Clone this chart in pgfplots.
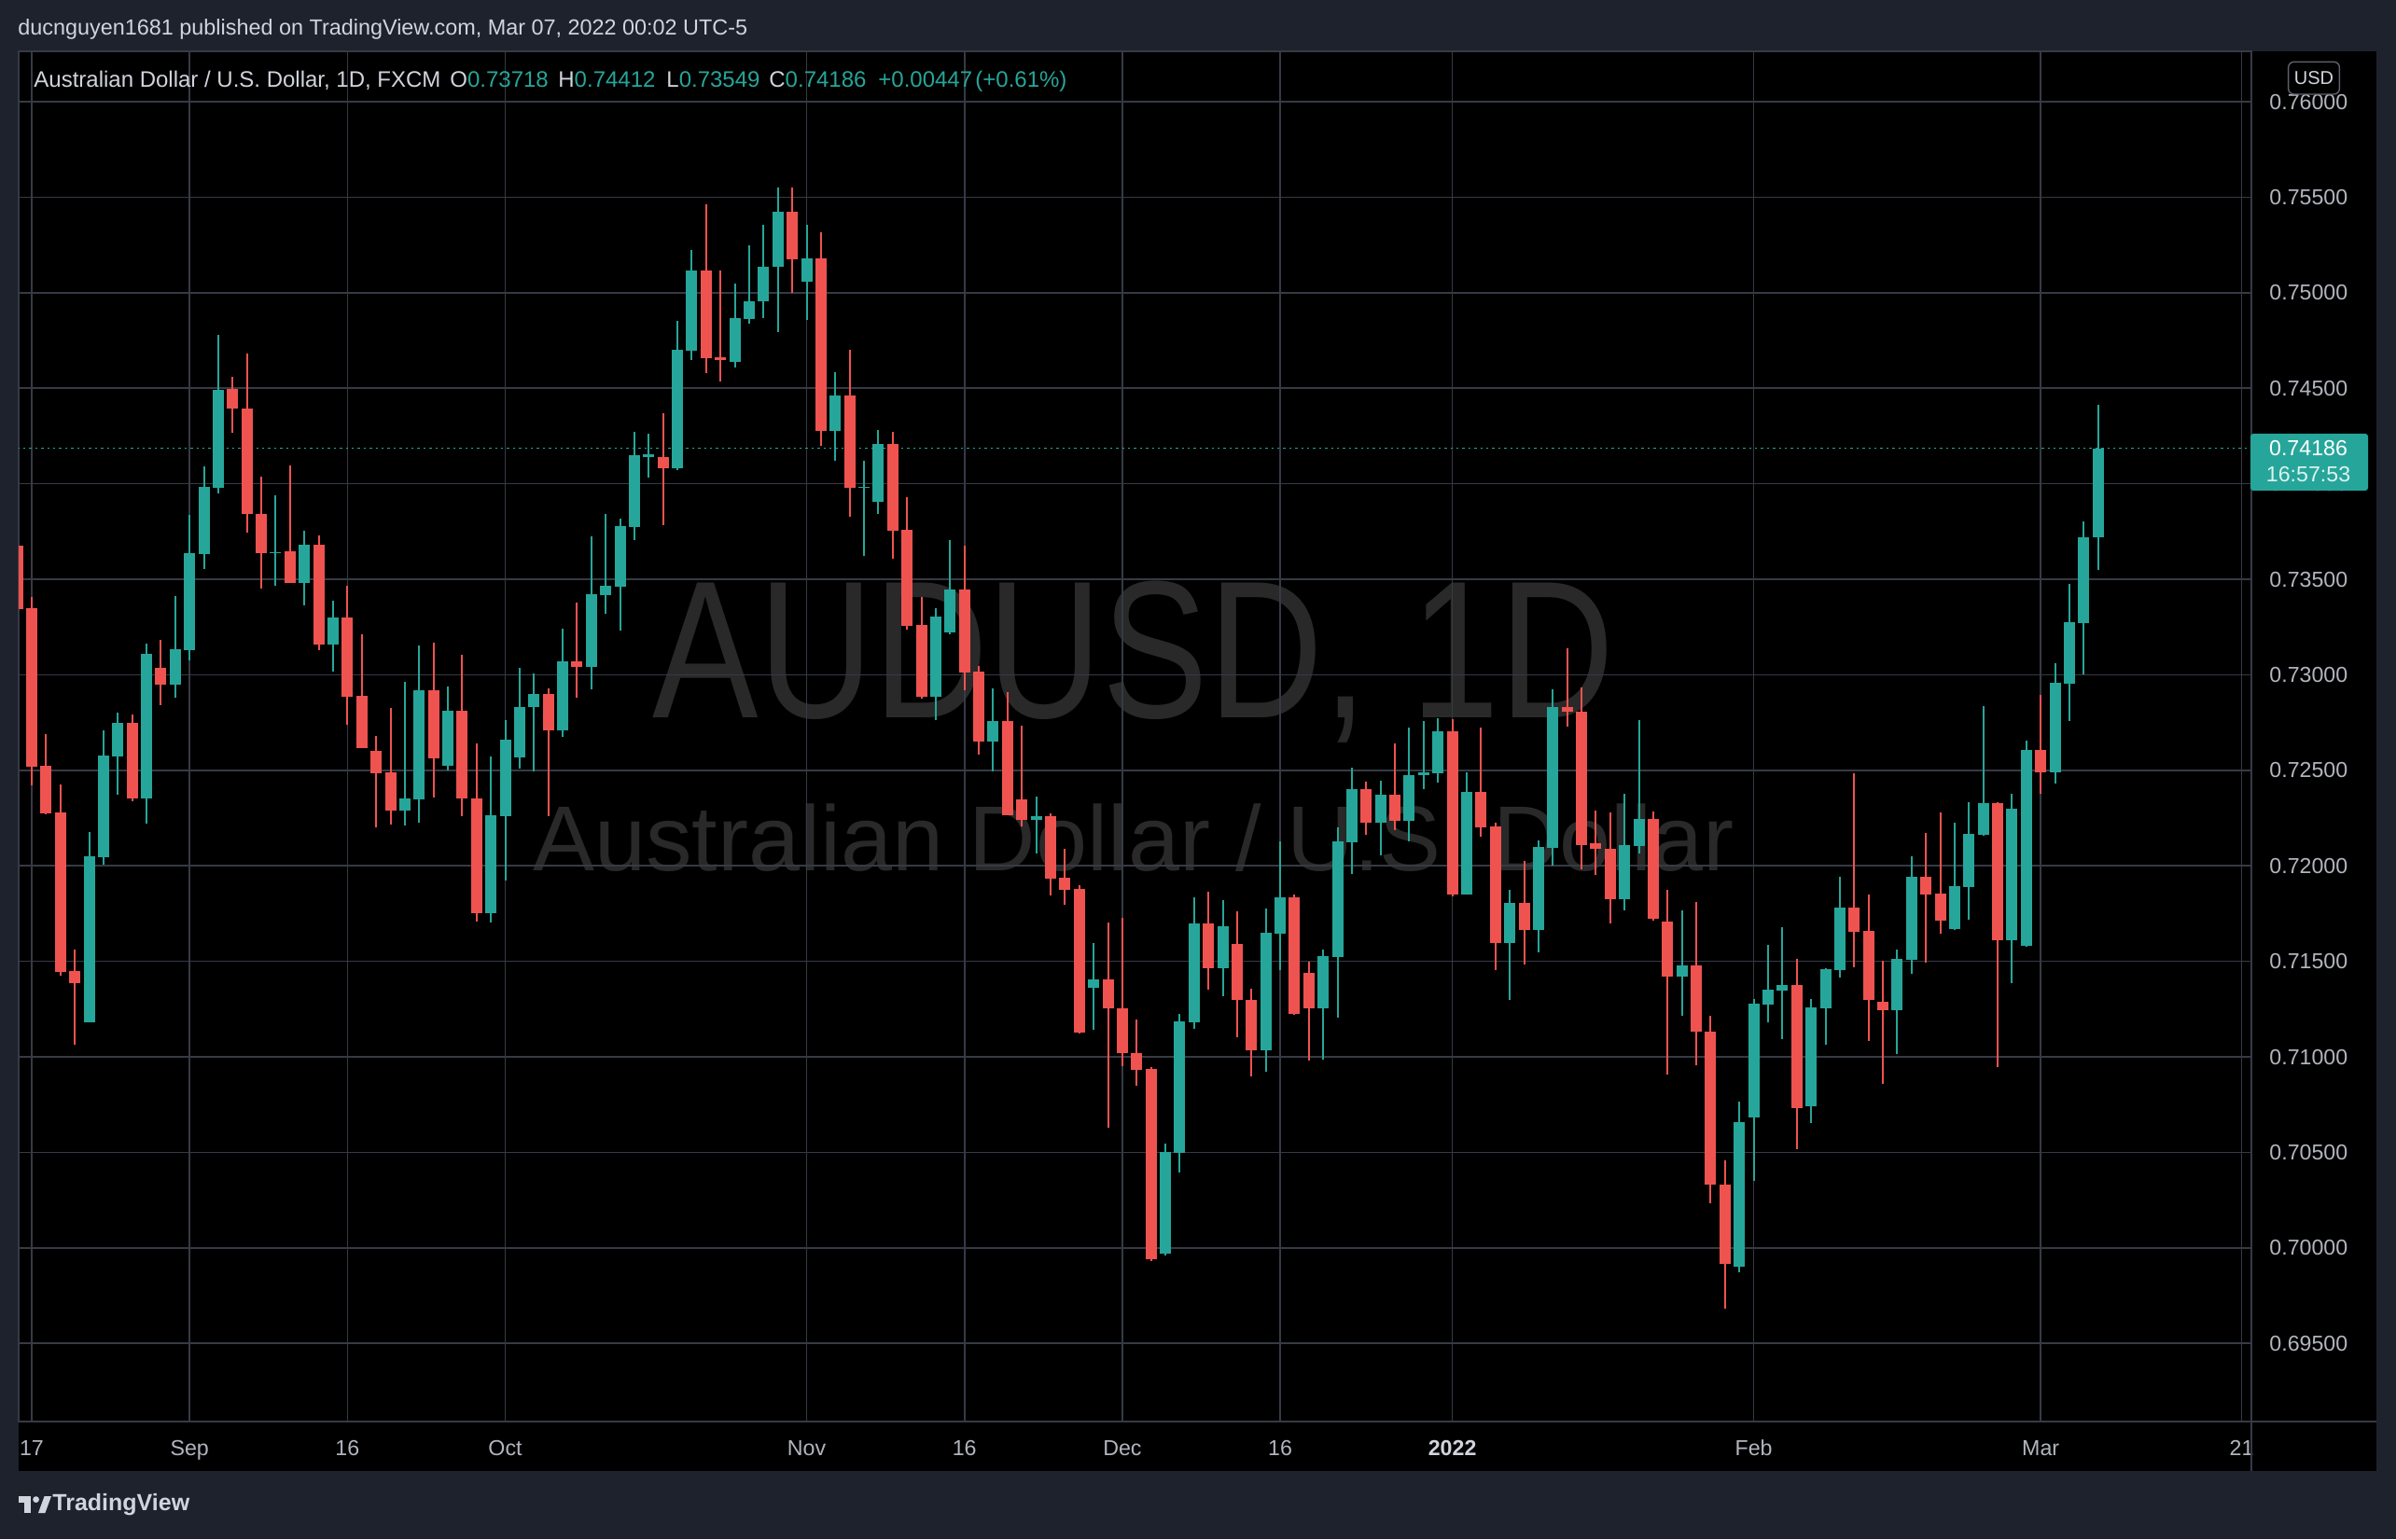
\documentclass[border=0pt]{standalone}
\usepackage{pgfplots}
\pgfplotsset{compat=1.18}
\usepackage{pgfplotstable}
\usepackage{fontspec}
\setmainfont{Liberation Sans}

\definecolor{up}{HTML}{26A69A}
\definecolor{down}{HTML}{EF5350}
\definecolor{frame}{HTML}{1E222D}
\definecolor{gridc}{HTML}{363A45}
\definecolor{txt}{HTML}{D1D4DC}
\definecolor{axtxt}{HTML}{B2B5BE}
\definecolor{wm}{HTML}{292929}

% daily AUDUSD bars, i = trading day counted from Aug 16 2021
\pgfplotstableread{
i o h l c
5 0.71182 0.72178 0.71180 0.72052
6 0.72046 0.72710 0.72007 0.72578
7 0.72574 0.72802 0.72374 0.72749
9 0.72354 0.73163 0.72221 0.73110
11 0.72949 0.73411 0.72879 0.73134
12 0.73130 0.73837 0.73075 0.73637
13 0.73631 0.74090 0.73554 0.73982
14 0.73978 0.74781 0.73950 0.74493
18 0.73636 0.73942 0.73467 0.73641
20 0.73483 0.73756 0.73362 0.73679
22 0.73160 0.73390 0.73015 0.73298
27 0.72291 0.72965 0.72213 0.72355
28 0.72349 0.73156 0.72227 0.72917
30 0.72522 0.72939 0.72498 0.72813
33 0.71752 0.72573 0.71703 0.72266
34 0.72261 0.72764 0.71922 0.72661
35 0.72566 0.73037 0.72511 0.72833
36 0.72829 0.73007 0.72493 0.72901
38 0.72707 0.73242 0.72673 0.73071
40 0.73042 0.73724 0.72922 0.73422
41 0.73417 0.73842 0.73321 0.73466
42 0.73461 0.73817 0.73234 0.73778
43 0.73773 0.74270 0.73706 0.74149
44 0.74140 0.74260 0.74033 0.74155
46 0.74083 0.74853 0.74073 0.74702
47 0.74697 0.75225 0.74648 0.75117
50 0.74640 0.75049 0.74609 0.74868
51 0.74865 0.75249 0.74839 0.74956
52 0.74953 0.75357 0.74868 0.75137
53 0.75134 0.75552 0.74795 0.75425
55 0.75060 0.75357 0.74860 0.75181
57 0.74278 0.74585 0.74122 0.74463
59 0.73980 0.74120 0.73620 0.73985
60 0.73904 0.74280 0.73841 0.74210
64 0.72886 0.73349 0.72763 0.73306
65 0.73222 0.73706 0.73210 0.73447
68 0.72649 0.72929 0.72494 0.72759
71 0.72239 0.72363 0.72067 0.72261
75 0.71360 0.71598 0.71140 0.71407
80 0.69971 0.70547 0.69961 0.70503
81 0.70498 0.71226 0.70396 0.71187
82 0.71182 0.71837 0.71148 0.71700
84 0.71466 0.71822 0.71319 0.71686
87 0.71036 0.71778 0.70923 0.71651
88 0.71647 0.72130 0.71456 0.71837
91 0.71256 0.71561 0.70985 0.71526
92 0.71522 0.72201 0.71205 0.72128
93 0.72125 0.72514 0.71958 0.72402
95 0.72226 0.72446 0.72055 0.72372
97 0.72236 0.72725 0.72128 0.72475
98 0.72474 0.72759 0.72402 0.72490
99 0.72485 0.72773 0.72436 0.72705
101 0.71851 0.72490 0.71848 0.72387
104 0.71595 0.71874 0.71297 0.71805
106 0.71665 0.72131 0.71548 0.72098
107 0.72096 0.72924 0.72001 0.72832
112 0.71824 0.72376 0.71766 0.72109
113 0.72102 0.72762 0.72064 0.72246
116 0.71422 0.71766 0.71216 0.71478
120 0.69900 0.70767 0.69870 0.70659
121 0.70684 0.71303 0.70350 0.71279
122 0.71274 0.71586 0.71181 0.71352
123 0.71347 0.71679 0.71094 0.71376
125 0.70742 0.71303 0.70654 0.71259
126 0.71256 0.71463 0.71066 0.71459
127 0.71456 0.71942 0.71415 0.71781
131 0.71246 0.71562 0.71017 0.71513
132 0.71508 0.72050 0.71437 0.71942
135 0.71667 0.72225 0.71663 0.71893
136 0.71888 0.72332 0.71717 0.72166
137 0.72161 0.72835 0.72157 0.72327
139 0.71610 0.72375 0.71385 0.72298
140 0.71581 0.72655 0.71576 0.72605
142 0.72491 0.73060 0.72432 0.72958
143 0.72955 0.73477 0.72760 0.73274
144 0.73272 0.73802 0.73001 0.73718
145 0.73718 0.74412 0.73549 0.74186
}\rising

\pgfplotstableread{
i o h l c
0 0.73676 0.73700 0.73320 0.73346
1 0.73348 0.73407 0.72423 0.72521
2 0.72525 0.72690 0.72270 0.72276
3 0.72280 0.72427 0.71423 0.71447
4 0.71451 0.71563 0.71062 0.71384
8 0.72749 0.72792 0.72339 0.72354
10 0.73036 0.73183 0.72841 0.72949
15 0.74498 0.74558 0.74265 0.74392
16 0.74396 0.74683 0.73746 0.73842
17 0.73844 0.74039 0.73451 0.73635
19 0.73645 0.74097 0.73480 0.73483
21 0.73679 0.73732 0.73130 0.73160
23 0.73298 0.73467 0.72740 0.72887
24 0.72891 0.73214 0.72615 0.72618
25 0.72604 0.72682 0.72203 0.72486
26 0.72490 0.72827 0.72217 0.72291
29 0.72917 0.73166 0.72359 0.72562
31 0.72813 0.73105 0.72258 0.72351
32 0.72354 0.72642 0.71706 0.71752
37 0.72901 0.72931 0.72261 0.72707
39 0.73071 0.73378 0.72882 0.73043
45 0.74140 0.74370 0.73783 0.74083
48 0.75117 0.75464 0.74580 0.74658
49 0.74661 0.75117 0.74536 0.74650
54 0.75425 0.75550 0.75000 0.75173
56 0.75181 0.75318 0.74200 0.74278
58 0.74463 0.74702 0.73829 0.73980
61 0.74210 0.74270 0.73608 0.73755
62 0.73759 0.73931 0.73237 0.73257
63 0.73261 0.73408 0.72873 0.72886
66 0.73447 0.73678 0.72920 0.73012
67 0.73018 0.73047 0.72584 0.72649
69 0.72759 0.72910 0.72265 0.72267
70 0.72349 0.72735 0.72206 0.72239
72 0.72261 0.72273 0.71843 0.71935
73 0.71939 0.72090 0.71798 0.71876
74 0.71880 0.71900 0.71120 0.71129
76 0.71407 0.71705 0.70627 0.71252
77 0.71256 0.71730 0.70950 0.71018
78 0.71021 0.71197 0.70847 0.70933
79 0.70938 0.70948 0.69932 0.69941
83 0.71700 0.71866 0.71353 0.71466
85 0.71593 0.71764 0.71104 0.71296
86 0.71300 0.71358 0.70899 0.71036
89 0.71837 0.71852 0.71222 0.71226
90 0.71442 0.71496 0.70982 0.71256
94 0.72402 0.72441 0.72162 0.72226
96 0.72372 0.72641 0.72187 0.72236
100 0.72705 0.72769 0.71840 0.71851
102 0.72387 0.72725 0.72152 0.72201
103 0.72206 0.72226 0.71453 0.71595
105 0.71806 0.72026 0.71485 0.71665
108 0.72832 0.73139 0.72731 0.72805
109 0.72807 0.72935 0.71981 0.72111
110 0.72118 0.72289 0.71952 0.72087
111 0.72089 0.72280 0.71698 0.71824
114 0.72246 0.72284 0.71712 0.71725
115 0.71707 0.71873 0.70908 0.71422
117 0.71478 0.71811 0.70958 0.71133
118 0.71133 0.71214 0.70233 0.70332
119 0.70332 0.70457 0.69680 0.69916
124 0.71376 0.71513 0.70518 0.70733
128 0.71781 0.72484 0.71471 0.71656
129 0.71659 0.71850 0.71085 0.71300
130 0.71289 0.71503 0.70861 0.71246
133 0.71942 0.72172 0.71495 0.71851
134 0.71854 0.72279 0.71645 0.71715
138 0.72327 0.72333 0.70948 0.71610
141 0.72605 0.72894 0.72375 0.72491
}\falling

\begin{document}
\begin{tikzpicture}[x=1pt,y=1pt]
% frame and chart pane
\fill[frame] (0,0) rectangle (1284,825);
\fill[black] (10,36.5) rectangle (1273.5,797.5);

% watermark
\node[text=wm, anchor=base, inner sep=0pt, xscale=0.81,
  font=\fontsize{105}{105}\selectfont] at (607.5,440) {AUDUSD, 1D};
\node[text=wm, anchor=base, inner sep=0pt,
  font=\fontsize{49.5}{50}\selectfont] at (607.5,358) {Australian Dollar / U.S. Dollar};

\begin{axis}[
  at={(10pt,63pt)}, anchor=south west,
  scale only axis, width=1196.5pt, height=734.5pt,
  xmin=0.09, xmax=155.68, ymin=0.69091, ymax=0.76264,
  axis line style={draw=gridc, line width=0.8pt},
  grid=major,
  major grid style={draw=gridc, line width=0.8pt},
  major tick length=0pt,
  xtick={1,12,23,34,55,66,77,88,100,121,141,155},
  xticklabels={17,Sep,16,Oct,Nov,16,Dec,16,{\bfseries\color{txt}2022},Feb,Mar,21},
  ytick={0.695,0.700,0.705,0.710,0.715,0.720,0.725,0.730,0.735,0.740,0.745,0.750,0.755,0.760},
  yticklabels={0.69500,0.70000,0.70500,0.71000,0.71500,0.72000,0.72500,0.73000,0.73500,0.74000,0.74500,0.75000,0.75500,0.76000},
  yticklabel pos=right,
  tick label style={font=\fontsize{11.6}{12}\selectfont, text=axtxt},
  xticklabel style={anchor=base, yshift=-18pt},
  yticklabel style={anchor=west, inner sep=0pt, xshift=9.5pt},
]
% last price line
\addplot[up, line width=0.9pt, dash pattern=on 1.2pt off 2pt, forget plot]
  coordinates {(0,0.74186) (156,0.74186)};

% wicks
\addplot[draw=none, mark=none, forget plot,
  error bars/.cd, y dir=plus, y explicit, error mark=none,
  error bar style={line width=1pt, draw=up, solid}]
  table[x=i, y=l, y error plus expr=\thisrow{h}-\thisrow{l}] {\rising};
\addplot[draw=none, mark=none, forget plot,
  error bars/.cd, y dir=plus, y explicit, error mark=none,
  error bar style={line width=1pt, draw=down, solid}]
  table[x=i, y=l, y error plus expr=\thisrow{h}-\thisrow{l}] {\falling};

% bodies
\addplot[draw=none, mark=none, forget plot,
  error bars/.cd, y dir=plus, y explicit, error mark=none,
  error bar style={line width=6pt, draw=up, solid}]
  table[x=i, y=o, y error plus expr={max(\thisrow{c}-\thisrow{o},0.00004)}] {\rising};
\addplot[draw=none, mark=none, forget plot,
  error bars/.cd, y dir=plus, y explicit, error mark=none,
  error bar style={line width=6pt, draw=down, solid}]
  table[x=i, y=c, y error plus expr={max(\thisrow{o}-\thisrow{c},0.00004)}] {\falling};
\end{axis}

% separators of the price and time scales
\draw[gridc, line width=0.8pt] (1206.5,36.5) -- (1206.5,797.5);
\draw[gridc, line width=0.8pt] (10,63) -- (1273.5,63);

% last price tag
\fill[up, rounded corners=1.5pt] (1206,562) rectangle (1269,592.5);
\node[text=white, inner sep=0pt, font=\fontsize{11.6}{12}\selectfont] at (1237,584.7) {0.74186};
\node[text=white!85!up, inner sep=0pt, font=\fontsize{11.6}{12}\selectfont] at (1237,570.5) {16:57:53};

% currency badge
\draw[draw=gridc!80!white, fill=black, rounded corners=3pt, line width=0.7pt]
  (1226.3,774.5) rectangle (1253.7,791.8);
\node[text=txt, inner sep=0pt, font=\fontsize{10}{10}\selectfont] at (1240,783.1) {USD};

% header
\node[text=txt, anchor=base west, inner sep=0pt, font=\fontsize{11.7}{14}\selectfont]
  at (9.5,806.3) {ducnguyen1681 published on TradingView.com, Mar 07, 2022 00:02 UTC-5};
\begin{scope}[every node/.style={anchor=base west, inner sep=0pt, font=\fontsize{12}{14}\selectfont}]
\node[text=txt] at (18,778.3) {Australian Dollar / U.S. Dollar, 1D, FXCM};
\node[text=txt] at (241,778.3) {O\textcolor{up}{0.73718}};
\node[text=txt] at (299,778.3) {H\textcolor{up}{0.74412}};
\node[text=txt] at (357,778.3) {L\textcolor{up}{0.73549}};
\node[text=txt] at (412,778.3) {C\textcolor{up}{0.74186}};
\node[text=up] at (470.5,778.3) {+0.00447};
\node[text=up] at (522.5,778.3) {(+0.61\%)};
\end{scope}

% footer logo
\fill[txt] (10,19.5) rectangle (16.5,23);
\fill[txt] (12.8,14) rectangle (16.5,23);
\fill[txt] (19.3,21.2) circle (1.7);
\fill[txt] (20.5,14) -- (24.2,14) -- (27.5,23) -- (23.8,23) -- cycle;
\node[text=txt, anchor=west, inner sep=0pt, font=\fontsize{12.5}{13}\selectfont\bfseries]
  at (28,18.5) {TradingView};
\end{tikzpicture}
\end{document}
